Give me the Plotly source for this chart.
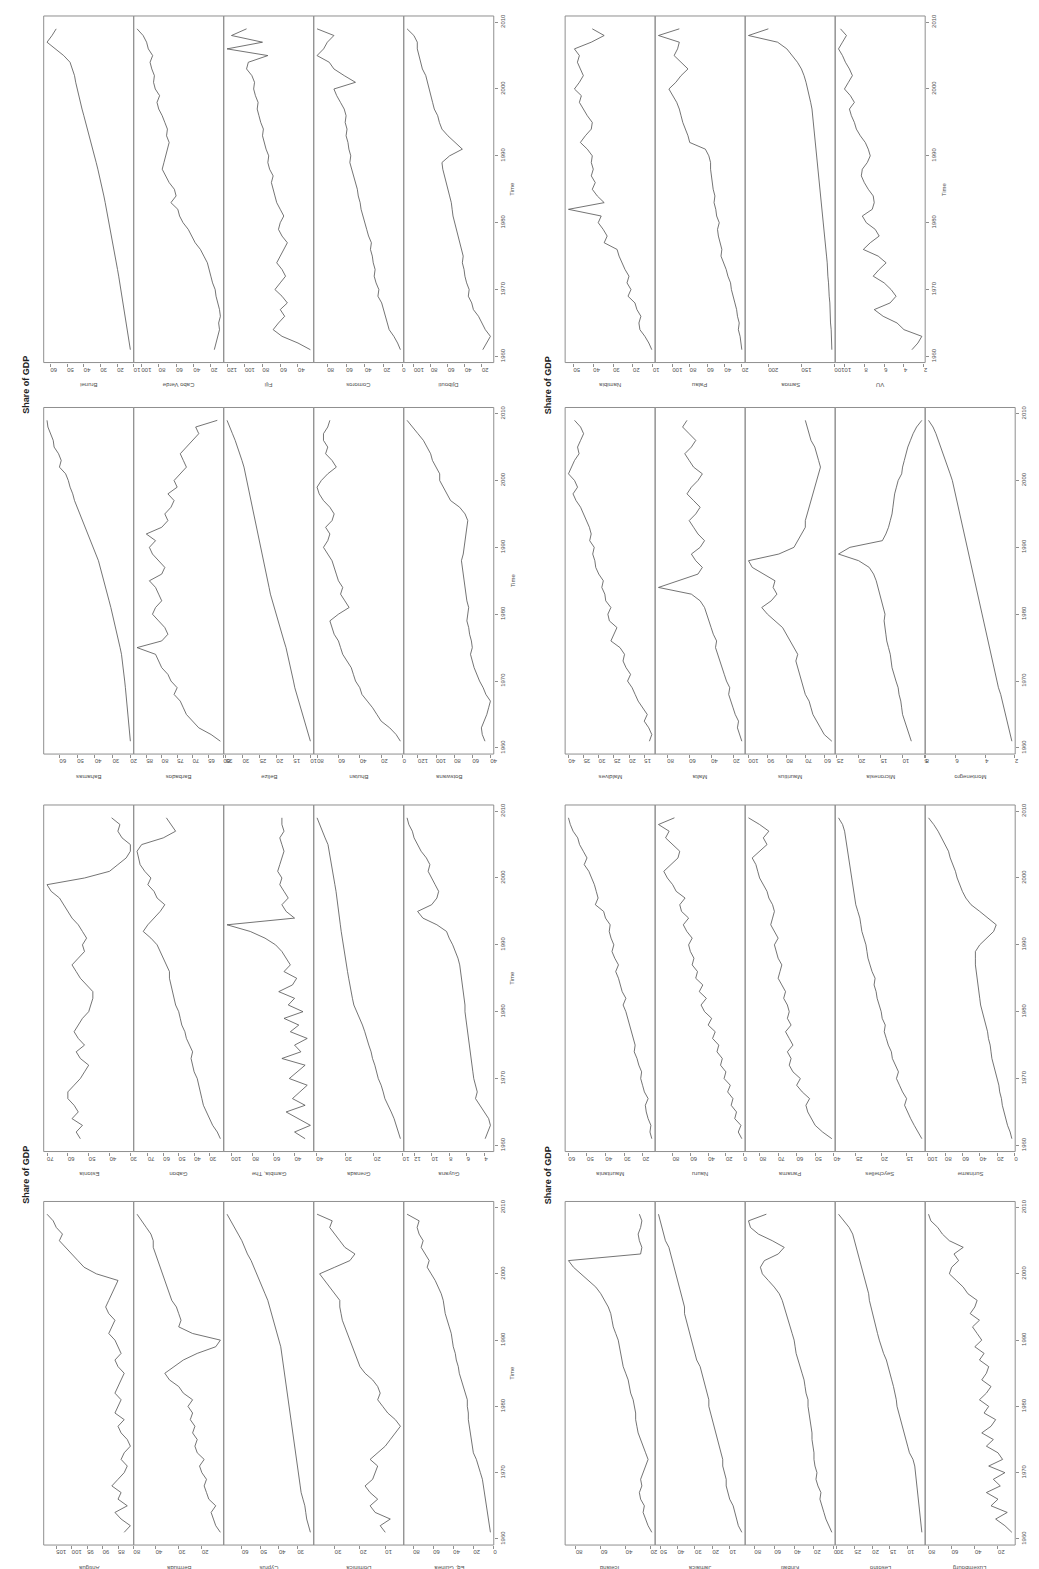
import plotly.graph_objects as go

W, H = 1039, 1569
years = list(range(1961, 2010))
time_ticks = [1960, 1970, 1980, 1990, 2000, 2010]
title_text = "Share of GDP"

# ---- figure B (top-left of original page) ----
B1_names = ["Bahamas", "Barbados", "Belize", "Bhutan", "Botswana"]
B1_U1 = [20,20.3,20.6,20.9,21.2,21.5,22,22.4,22.8,23.2,23.6,24,24.5,25,25.8,26.6,27.4,28.2,29,30,31,32,33,34,35,36,37,38,39.5,41,42.5,44,45.5,47,48.5,50,51.5,52.5,54,55,56.5,60,59,60.5,63,63.5,65,66.5,67]
B1_U2 = [61,64,68,70,72,73,74,76,75,77,78,80,81,82,88,80,78,79,81,83,82,80,81,82,84,80,79,81,83,84,82,85,80,78,79,77,76,78,75,76,74,72,73,74,72,70,68,69,62]
B1_U3 = [10,10.6,11.2,11.8,12.4,13.0,13.6,14.1,14.6,15.0,15.4,15.8,16.2,16.6,17.2,17.8,18.4,19.0,19.6,20.2,20.8,21.4,21.8,22.2,22.6,23.0,23.4,23.8,24.2,24.6,25.0,25.4,25.8,26.2,26.6,27.0,27.4,27.8,28.2,28.6,29.0,29.6,30.2,30.8,31.4,32.2,33.0,33.8,34.6]
B1_U4 = [2,6,12,20,24,28,33,38,40,44,46,48,52,56,58,60,64,66,68,60,50,54,58,56,60,62,64,66,70,74,70,68,72,66,64,68,74,78,80,76,70,62,66,72,70,74,74,70,68]
B1_U5 = [46,49,50,47,44,42,40,45,48,52,55,58,60,62,60,61,63,64,66,65,64,66,67,68,69,70,71,72,70,69,68,67,66,65,68,74,84,88,92,96,96,100,104,106,110,114,120,126,132]

B2_names = ["Brunei", "Cabo Verde", "Fiji", "Comoros", "Djibouti"]
B2_S1 = [12.0,12.6,13.2,13.8,14.4,15.0,15.6,16.2,16.9,17.6,18.3,19.0,19.7,20.4,21.1,21.8,22.5,23.2,23.9,24.7,25.5,26.3,27.1,27.9,28.7,29.5,30.5,31.5,32.5,33.5,34.5,35.5,36.6,37.7,38.8,39.9,41.0,42.0,43.0,44.0,44.8,45.5,46.8,48.2,52.0,57.0,62.0,59.0,56.5]
B2_S2 = [16,14,12,10,11,9,10,12,14,15,18,20,22,24,28,32,38,42,46,52,56,58,66,60,62,68,72,76,74,72,70,68,71,70,73,76,80,82,79,84,86,85,88,90,87,92,94,98,105]
B2_S3 = [26,40,58,68,62,55,60,52,58,66,60,54,58,64,60,56,52,58,62,60,56,60,64,66,68,70,68,72,74,73,76,78,80,79,82,84,86,85,88,90,89,92,98,96,74,120,80,115,98]
B2_S4 = [2,5,9,14,16,18,20,22,26,25,28,30,29,31,32,34,33,36,38,40,42,44,45,47,48,50,52,54,56,55,57,58,60,59,61,60,62,66,70,73,50,62,73,78,91,84,80,73,91]
B2_S5 = [19,14,10,16,20,24,30,32,36,35,38,40,41,43,42,44,46,48,50,52,54,55,56,58,60,62,64,66,67,58,43,52,60,67,70,72,76,78,80,82,84,86,90,92,94,96,96,100,108]

# ---- figure D (bottom-right of original page) ----
D1_names = ["Maldives", "Malta", "Mauritius", "Micronesia", "Montenegro"]
D1_V1 = [13.3,12.5,13.5,15,14,15.5,17,18,19,20.5,19.5,21,22,21.5,23,26,25,24,26.5,27,26,27.7,28,29,28.5,30,31,31.3,32,31.5,33,32.5,33.1,34,35,36,37.5,38.5,37,38,40,39,38,36.5,37,36,35,36,38]
D1_V2 = [12,14,16,15,18,20,22,24,23,26,28,30,32,34,36,35,38,40,42,44,46,50,58,88,70,52,48,54,58,50,46,52,56,60,54,50,56,62,58,52,48,56,60,64,58,54,60,66,62]
D1_V3 = [56,60,62,64,66,67,68,70,71,72,73,74,75,74,76,78,80,82,86,90,93,88,85,87,86,92,98,100,84,76,74,72,70,70,69,68,67,66,65,64,63,62,63,64,65,67,68,69,70]
D1_V4 = [8,8.5,9,9.5,10,10.2,10.4,10.8,11,11.5,12,12.4,12.6,12.8,13.2,13.6,13.8,14,14.2,14,14.4,14.8,15.2,15.6,16,16.6,17.6,20,24.6,22,14.6,13.8,13.2,12.8,12.4,12.2,12,11.8,11.4,11,10.2,10,9.6,9.2,8.8,8.2,7.6,6.8,5.6]
D1_V5 = [2.2,2.3,2.4,2.5,2.6,2.7,2.8,2.95,3.1,3.2,3.3,3.4,3.5,3.6,3.7,3.8,3.9,4.0,4.1,4.2,4.3,4.4,4.5,4.6,4.7,4.8,4.9,5.0,5.1,5.2,5.3,5.4,5.5,5.6,5.7,5.8,5.9,6.0,6.1,6.2,6.35,6.5,6.65,6.8,6.95,7.1,7.3,7.5,7.8]

D2_names = ["Namibia", "Palau", "Samoa", "VU"]
D2_T1 = [10.5,12,14,16.5,17,16,18,19,22.5,21,23,22,24,25.5,27,28,34.5,33,35,37.5,36,52.5,34.5,38,40.5,39,41,40,41,40.5,43,46.5,44,41,40.5,43,45,47,46,49.5,47,45,46.5,48,47,49.5,41,34.5,40.5]
D2_T2 = [20,21,22,24,23,25,26,28,30,32,33,36,38,41,44,43,45,47,48,46,49,50,52,51,53,54,55,56,56,58,62,80,82,85,88,90,92,95,100,104,96,90,82,90,98,94,92,116,92]
D2_T3 = [104,104,105,105,106,106,107,107,108,108,109,110,110,111,112,113,113,114,115,116,117,118,119,120,121,122,123,124,125,126,127,128,129,130,131,132,134,136,138,140,143,146,150,156,164,172,186,230,200]
D2_T4 = [3.2,2.6,2.2,4.0,4.7,6.1,7.0,5.4,4.8,5.3,6.0,7.1,6.5,5.8,6.6,8.1,7.4,6.5,6.9,7.8,8.2,7.2,7.0,7.1,7.6,8.0,8.3,8.2,7.7,7.4,7.6,7.9,8.4,8.8,9.0,9.3,9.5,9.0,9.4,10.0,9.6,9.2,9.5,9.9,10.2,10.6,10.2,9.8,10.4]

# ---- figure A (top-right of original page) ----
A1_names = ["Antigua", "Bermuda", "Cyprus", "Dominica", "Eq. Guinea"]
A1_Y1 = [83,81,84,86,82,85,84,87,85,83,82,84,83,81,82,84,85,83,86,85,84,86,85,84,83,85,86,84,85,86,88,87,86,88,89,88,87,86,85,92,96,98,100,102,104,103,105,106,108]
A1_Y2 = [12,14,15,16,14,17,18,19,18,20,21,19,22,23,22,24,23,25,24,26,24,28,30,34,36,32,28,22,14,12,24,30,29,30,31,33,34,35,36,37,38,39,40,41,41,42,44,46,48]
A1_Y3 = [23,24,25,25.5,26,27,28,28.5,29,29.5,30,30.5,31,31.5,32,32.5,33,33.5,34,34.5,35,35.5,36,36.5,37,37.5,38,38.5,39,40,41,42,43,44,45,46,47.5,49,50.5,52,53.5,55,57,58.5,60,62,64,66,68]
A1_Y4 = [10,12,8,14,16,13,16,18,15,14,13,16,13,10,8,6,4,6,9,11,13,12,13,15,18,20,21,22,23,24,25,26,27,27.5,28,28,30,32,34,36,30,24,22,26,28,30,32,31,37]
A1_Y5 = [3,4,5,6,7,8,9,10,11,13,15,17,20,21,22,23,24,25,25,26,26,28,30,32,34,35,37,38,40,41,42,44,46,48,49,50,52,55,58,62,66,64,68,72,70,74,76,74,86]

A2_names = ["Estonia", "Gabon", "Gambia, The", "Grenada", "Guyana"]
A2_W1 = [54,56,53,58,55,57,60,60,57,54,52,50,54,56,52,55,57,55,53,50,49,48,48,51,54,56,58,55,52,53,51,53,55,58,60,62,64,68,70,52,40,36,32,30,30,34,36,35,39]
A2_W2 = [23,25,28,30,32,34,35,36,37,38,40,41,42,41,43,45,46,48,49,50,52,53,54,55,56,56,58,60,62,64,68,73,70,66,62,59,64,66,70,68,72,75,76,77,74,60,52,55,58]
A2_W3 = [30,40,25,36,48,30,42,35,28,45,38,30,52,34,40,28,44,36,50,32,46,40,55,42,38,50,44,48,52,58,68,82,104,40,48,52,46,50,54,52,56,54,52,50,52,54,50,52,52]
A2_W4 = [10.8,11.5,12.3,13.0,14.0,15.0,16.2,16.8,17.5,18.5,19.0,19.7,20.5,21.0,21.8,22.4,23.2,24,25,26,27,27.5,28,28.4,28.8,29.2,29.6,30,30.4,30.8,31,31.4,31.7,32,32.2,32.4,32.8,33.2,33.6,34,34.4,34.8,35,35.4,36,37,38,39,39.8]
A2_W5 = [3.9,3.6,3.3,3.5,4.0,4.5,5.0,4.8,5.0,5.2,5.3,5.4,5.5,5.6,5.7,5.8,5.9,6.0,6.1,6.2,6.2,6.3,6.4,6.5,6.6,6.7,6.8,7.0,7.3,7.6,8.0,8.3,9.4,11.0,11.6,10.0,9.4,9.2,9.6,10.0,10.4,10.2,10.6,11.2,11.6,12.0,12.2,12.6,12.8]

# ---- figure C (bottom-left of original page) ----
C1_names = ["Iceland", "Jamaica", "Kiribati", "Lesotho", "Luxembourg"]
C1_Z1 = [19,22,24,26,25,28,29,27,28,26,24,22,24,26,28,30,31,32,32,33,34,36,37,38,40,42,43,44,45,46,48,50,51,52,54,57,60,64,70,76,82,86,28,27,29,30,28,27,29]
C1_Z2 = [3,5,6,7,8,10,11,12,12,13,14,14,15,16,17,18,19,20,21,22,22,23,24,25,26,27,29,30,31,32,33,34,35,36,36,37,38,39,40,41,42,43,44,45,47,48,49,50,51]
C1_Z3 = [2,5,8,10,12,14,13,16,18,17,19,20,20,21,22,22,23,24,25,26,26,28,29,30,32,34,36,38,39,40,42,44,46,48,50,52,55,60,66,72,74,70,56,50,62,76,84,86,68]
C1_Z4 = [6,6.2,6.4,6.6,6.8,7,7.2,7.4,7.6,7.8,8,8.5,9.5,10,10.5,11,11.5,12,12.5,13,13.2,13.5,14,14.5,15,15.5,16,16.8,17.5,18,18.5,19,19.5,20,20.5,20.8,21,21.5,22,22.5,23,23.5,24,24.5,25,25.5,26.5,28,29.5]
C1_Z5 = [8,14,22,12,26,20,30,18,24,14,28,16,20,30,24,34,26,22,32,28,36,30,26,34,30,28,36,32,40,34,38,42,36,44,40,38,46,50,56,62,60,54,58,50,62,68,72,78,80]

C2_names = ["Mauritania", "Nauru", "Panama", "Seychelles", "Suriname"]
C2_X1 = [15,16,15.5,17,18,18.5,17,19,20,21,20.5,22,23,24.5,24,25,26,27,28,29,30.5,29,31,32,33,34.5,33,35,36.5,35.5,37,38,37.5,40,41,45.5,44,45,46,47.5,49,51.5,50,52,54,55,57.5,59,60]
C2_X2 = [2,6,3,10,8,14,12,18,15,22,20,26,24,30,28,35,32,40,36,44,48,42,50,46,54,52,58,56,60,62,58,64,68,62,70,72,66,76,80,86,90,82,74,72,80,88,84,96,78]
C2_X3 = [41,46,50,52,54,55,53,57,60,58,62,64,63,65,62,64,66,63,65,64,65,67,66,68,70,69,68,70,71,72,70,72,74,73,72,73,75,76,78,80,81,82,84,80,76,78,75,80,86]
C2_X4 = [12,12.8,13.5,14.2,14.8,15.4,15,15.8,16.4,17,16.6,17.2,17.8,18,18.6,19,19.4,19.2,19.8,20,20.4,20.8,21,21.4,21.2,21.8,22.2,22.6,22.8,23,23.4,23.8,24,24.2,24.6,25,25.2,25.4,25.6,25.8,26,26.2,26.4,26.6,26.8,27,27.2,27.6,28.4]
C2_X5 = [3,5,8,10,12,14,15,17,18,20,22,24,26,27,28,30,31,33,35,37,39,40,41,42,43,44,45,45,45,40,32,24,21,30,40,50,56,60,63,66,68,71,74,76,80,84,88,93,99]

# ---------------- layout geometry (pixels) ----------------
ROWS = {1: (6, 353), 2: (398, 745), 3: (796, 1143), 4: (1193, 1537)}
COL_X = {"L": 36, "R": 562}
STRIP = 90.8
TIME_RANGE = [1959.08, 2010.92]

groups = [
    (2, "L", B1_names, [B1_U1, B1_U2, B1_U3, B1_U4, B1_U5]),
    (1, "L", B2_names, [B2_S1, B2_S2, B2_S3, B2_S4, B2_S5]),
    (2, "R", D1_names, [D1_V1, D1_V2, D1_V3, D1_V4, D1_V5]),
    (1, "R", D2_names, [D2_T1, D2_T2, D2_T3, D2_T4]),
    (4, "L", A1_names, [A1_Y1, A1_Y2, A1_Y3, A1_Y4, A1_Y5]),
    (3, "L", A2_names, [A2_W1, A2_W2, A2_W3, A2_W4, A2_W5]),
    (4, "R", C1_names, [C1_Z1, C1_Z2, C1_Z3, C1_Z4, C1_Z5]),
    (3, "R", C2_names, [C2_X1, C2_X2, C2_X3, C2_X4, C2_X5]),
]
titles = [("L", 1, 2), ("R", 1, 2), ("L", 3, 4), ("R", 3, 4)]

FONT = "Liberation Sans, Arial, sans-serif"
LINE_C = "#505050"
FRAME_C = "#8f8f8f"
TXT_C = "#505050"

fig = go.Figure()
layout = {}
shapes = []
annotations = []
ax = 0
for gi, (row, col, names, series) in enumerate(groups):
    yid = gi + 1
    yref = "y" if yid == 1 else f"y{yid}"
    ykey = "yaxis" if yid == 1 else f"yaxis{yid}"
    ytop, ybot = ROWS[row]
    x0 = COL_X[col]
    xr = x0 + STRIP * len(series)
    layout[ykey] = dict(
        domain=[1 - ybot / H, 1 - ytop / H], range=TIME_RANGE,
        side="right", anchor="free", position=xr / W,
        tickvals=time_ticks, ticktext=[str(t) for t in time_ticks],
        ticks="outside", ticklen=3, tickwidth=0.8, tickcolor=FRAME_C,
        tickangle=-90, tickfont=dict(size=6, color=TXT_C, family=FONT),
        showline=False, showgrid=False, zeroline=False,
    )
    annotations.append(dict(
        text="Time", textangle=-90, x=(xr + 19) / W, y=1 - ((ytop + ybot) / 2) / H,
        xref="paper", yref="paper", showarrow=False,
        xanchor="center", yanchor="middle",
        font=dict(size=6, color=TXT_C, family=FONT),
    ))
    for k, (name, vals) in enumerate(zip(names, series)):
        ax += 1
        xref = "x" if ax == 1 else f"x{ax}"
        xkey = "xaxis" if ax == 1 else f"xaxis{ax}"
        lo, hi = min(vals), max(vals)
        pad = 0.04 * (hi - lo)
        layout[xkey] = dict(
            domain=[(x0 + k * STRIP) / W, (x0 + (k + 1) * STRIP) / W],
            anchor=yref, range=[hi + pad, lo - pad], nticks=6,
            ticks="outside", ticklen=3, tickwidth=0.8, tickcolor=FRAME_C,
            tickangle=180, tickfont=dict(size=6, color=TXT_C, family=FONT),
            showline=False, showgrid=False, zeroline=False,
        )
        fig.add_trace(go.Scatter(
            x=vals, y=years[:len(vals)], xaxis=xref, yaxis=yref,
            mode="lines", line=dict(color=LINE_C, width=0.8),
            showlegend=False, hoverinfo="skip",
        ))
        shapes.append(dict(
            type="rect", xref=f"{xref} domain", yref=f"{yref} domain",
            x0=0, x1=1, y0=0, y1=1, line=dict(color=FRAME_C, width=1),
            fillcolor="rgba(0,0,0,0)", layer="above",
        ))
        annotations.append(dict(
            text=name, textangle=180, x=0.5, xref=f"{xref} domain",
            y=1 - (ybot + 23) / H, yref="paper", showarrow=False,
            xanchor="center", yanchor="middle",
            font=dict(size=6, color=TXT_C, family=FONT),
        ))

for col, r1, r2 in titles:
    yc = (ROWS[r1][0] + ROWS[r2][1]) / 2
    xc = 18 if col == "L" else 545
    annotations.append(dict(
        text="<b>" + title_text + "</b>", textangle=-90, x=xc / W, y=1 - yc / H,
        xref="paper", yref="paper", showarrow=False,
        xanchor="center", yanchor="middle",
        font=dict(size=9, color="#222222", family=FONT),
    ))

fig.update_layout(
    width=W, height=H, margin=dict(l=0, r=0, t=0, b=0),
    paper_bgcolor="white", plot_bgcolor="white",
    shapes=shapes, annotations=annotations, showlegend=False,
    **layout,
)
fig.write_html("out.html")
